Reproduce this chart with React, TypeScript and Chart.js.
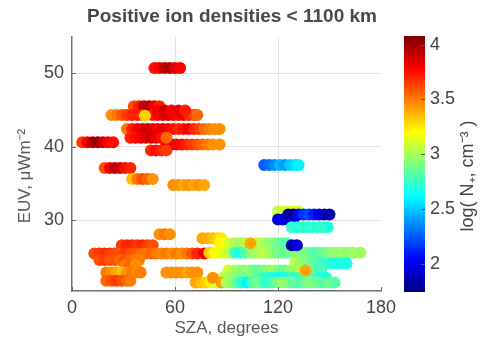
import { useEffect, useRef } from 'react';
import { Chart, registerables } from 'chart.js';

Chart.register(...registerables);

const FONT = '"Liberation Sans", Arial, sans-serif';

const xTicks = [0, 60, 120, 180];
const yTicks = [30, 40, 50];
const cbTicks = [2, 2.5, 3, 3.5, 4];

const X_MIN = 0;
const X_MAX = 180;
const Y_MIN = 20.4;
const Y_MAX = 54.9;
const CB_MIN = 1.75;
const CB_MAX = 4.07;

// EUV level of each streak of samples (µW m^-2)
const streakEuv = [
  50.7, 45.5, 44.3, 44.9, 44.2, 42.4, 40.6, 40.3, 41.2, 39.5, 37.1, 35.6, 34.8,
  28.1, 27.55, 26.6, 25.5, 24.6, 23.9, 22.9, 22.9, 21.8,
  26.9, 25.6, 24.15, 23.2, 22.2, 21.55,
  26.9, 23.2, 22.2, 26.6,
  37.5, 31.2, 30.1, 30.8, 29.05,
];

// SZA of each sample in the streaks (degrees)
const streakSza = [
  [48, 51, 54, 57, 60, 63],
  [36, 39, 42, 45, 48, 51],
  [23, 26, 29, 32, 35, 38, 41, 47, 50, 53, 56, 59, 62, 65, 68, 71, 73],
  [50, 54, 58, 62, 66],
  [42.5],
  [32, 35, 38, 41, 44, 47, 50, 53, 56, 59, 62, 65, 68, 71, 74, 77, 80, 83, 86],
  [6, 9, 12, 15, 18, 21, 24],
  [55, 58, 61, 64, 67, 70, 73, 76, 79, 82, 86],
  [34, 37, 40, 43, 46, 49, 52, 55],
  [46, 49, 52, 55],
  [19, 22, 25, 28, 31, 34],
  [35, 38, 41, 44, 47],
  [59, 62, 65, 68, 71, 74, 77],
  [51, 54, 57],
  [76, 79, 82, 85, 87],
  [29, 32, 35, 38, 41, 44, 47],
  [13, 16, 19, 22, 25, 28, 31, 34, 37, 40, 43, 46, 49, 52, 55, 58, 61, 64, 67, 70, 73, 77],
  [16, 19, 22, 25, 28, 31, 34, 37, 39],
  [31, 34, 37],
  [20, 23, 26, 29, 32, 35, 38, 40],
  [55, 58, 61, 64, 67, 70, 73],
  [20, 23, 26, 29, 32, 34],
  [86, 89, 92, 95, 98, 101, 107, 110, 113, 116, 119, 122, 125],
  [80, 83, 86, 89, 92, 95, 98, 101, 104, 107, 110, 113, 116, 119, 122, 125, 128, 131, 134, 137, 140, 143, 146, 149, 152, 155, 158, 161, 164, 168],
  [130, 133, 136, 139, 142, 145, 148, 151, 154, 157, 160],
  [91, 94, 97, 100, 103, 106, 109, 112, 115, 118, 121, 124, 127, 130, 133, 139, 142, 145],
  [88, 92, 96, 100, 104, 108, 112, 116, 120, 124, 128, 132, 136, 140, 144, 148],
  [72, 75, 78, 81, 84, 87, 90, 93, 96, 99, 102, 105, 108, 111, 114, 117, 120, 123, 126, 129, 132, 135, 138, 141, 144, 147, 150, 153],
  [104],
  [136],
  [82],
  [128, 131],
  [112, 115, 118, 121, 124, 127, 130, 132],
  [120, 123, 126, 129, 132],
  [120, 123, 126, 129],
  [126, 129, 132, 135, 138, 141, 144, 147, 150],
  [128, 131, 134, 137, 140, 143, 146, 149],
];

// log10 of the positive ion density of each sample (cm^-3)
const streakLogN = [
  [3.75, 3.8, 3.92, 3.97, 3.85, 3.78],
  [3.6, 3.72, 3.92, 3.95, 3.82, 3.7],
  [3.45, 3.5, 3.58, 3.65, 3.7, 3.72, 3.68, 3.72, 3.78, 3.82, 3.85, 3.8, 3.75, 3.8, 3.7, 3.62, 3.55],
  [3.8, 3.88, 3.78, 3.82, 3.72],
  [3.3],
  [3.5, 3.7, 3.8, 3.85, 3.9, 3.85, 3.8, 3.85, 3.8, 3.75, 3.7, 3.75, 3.8, 3.7, 3.65, 3.55, 3.5, 3.45, 3.45],
  [3.65, 3.8, 3.95, 4.0, 3.9, 3.8, 3.75],
  [3.8, 3.85, 3.8, 3.75, 3.7, 3.65, 3.6, 3.55, 3.5, 3.45, 3.45],
  [3.7, 3.75, 3.8, 3.85, 3.9, 3.82, 3.75, 3.55],
  [3.7, 3.75, 3.7, 3.65],
  [3.6, 3.8, 3.92, 3.9, 3.75, 3.7],
  [3.35, 3.5, 3.6, 3.55, 3.45],
  [3.45, 3.45, 3.4, 3.45, 3.4, 3.45, 3.4],
  [3.45, 3.5, 3.45],
  [3.4, 3.38, 3.35, 3.3, 3.25],
  [3.65, 3.7, 3.7, 3.65, 3.7, 3.65, 3.6],
  [3.62, 3.65, 3.68, 3.65, 3.62, 3.6, 3.65, 3.6, 3.58, 3.55, 3.52, 3.55, 3.5, 3.48, 3.5, 3.45, 3.5, 3.45, 3.5, 3.6, 3.7, 3.82],
  [3.6, 3.65, 3.6, 3.6, 3.55, 3.6, 3.55, 3.5, 3.5],
  [3.5, 3.55, 3.45],
  [3.5, 3.45, 3.4, 3.35, 3.45, 3.5, 3.45, 3.5],
  [3.45, 3.45, 3.45, 3.45, 3.4, 3.45, 3.45],
  [3.55, 3.6, 3.65, 3.6, 3.55, 3.5],
  [3.22, 3.18, 3.1, 3.02, 2.98, 3.05, 3.12, 3.05, 2.98, 2.95, 2.9, 2.85, 2.8],
  [3.3, 3.22, 3.18, 3.12, 3.05, 2.75, 2.68, 2.8, 2.92, 2.98, 3.02, 3.05, 2.98, 2.92, 2.88, 2.85, 2.9, 2.95, 2.9, 2.9, 2.85, 2.8, 2.85, 2.9, 2.95, 2.95, 2.98, 2.92, 2.98, 2.98],
  [3.05, 2.98, 2.92, 2.88, 2.82, 2.78, 2.75, 2.7, 2.68, 2.68, 2.68],
  [3.1, 3.02, 2.98, 2.92, 2.98, 2.88, 2.85, 2.9, 2.95, 2.98, 2.9, 2.85, 2.92, 2.98, 3.02, 2.88, 2.82, 2.78],
  [3.05, 2.98, 2.92, 2.88, 2.92, 2.82, 2.72, 2.68, 2.62, 2.68, 2.72, 2.78, 2.85, 2.8, 2.72, 2.68],
  [3.4, 3.35, 3.3, 3.22, 3.12, 3.42, 3.02, 2.95, 2.85, 2.72, 2.6, 2.78, 2.88, 2.82, 2.72, 2.8, 2.88, 2.98, 2.92, 2.85, 2.8, 2.85, 2.9, 2.9, 2.85, 2.8, 2.88, 2.82],
  [3.4],
  [3.4],
  [3.45],
  [1.85, 1.95],
  [2.25, 2.3, 2.35, 2.45, 2.4, 2.5, 2.55, 2.6],
  [3.05, 3.1, 3.1, 3.15, 3.1],
  [1.95, 2.0, 1.95, 2.05],
  [1.85, 1.8, 2.05, 2.15, 2.2, 2.1, 2.0, 1.9, 1.85],
  [2.75, 2.7, 2.75, 2.7, 2.75, 2.7, 2.75, 2.7],
];

function jet(t: number): string {
  const tt = Math.min(1, Math.max(0, t));
  const c = (v: number) => Math.round(255 * Math.min(1, Math.max(0, v)));
  const r = c(1.5 - Math.abs(4 * tt - 3));
  const g = c(1.5 - Math.abs(4 * tt - 2));
  const b = c(1.5 - Math.abs(4 * tt - 1));
  return `rgb(${r},${g},${b})`;
}

const colorOf = (v: number) => jet((v - CB_MIN) / (CB_MAX - CB_MIN));

const noPad = (s: any) => {
  s.paddingTop = 0;
  s.paddingBottom = 0;
  s.paddingLeft = 0;
  s.paddingRight = 0;
};

const decorPlugin = {
  id: 'decor',
  afterDraw(chart: any) {
    const ctx: CanvasRenderingContext2D = chart.ctx;
    const cb = chart.scales.cb;
    const xs = chart.scales.x;
    const ys = chart.scales.y;
    const area = chart.chartArea;
    ctx.save();

    // colour bar
    const top = cb.getPixelForValue(CB_MAX);
    const bottom = cb.getPixelForValue(CB_MIN);
    const x0 = cb.left + 23;
    const w = 21;
    const grad = ctx.createLinearGradient(0, bottom, 0, top);
    [0, 1 / 8, 3 / 8, 5 / 8, 7 / 8, 1].forEach((t) => grad.addColorStop(t, jet(t)));
    ctx.fillStyle = grad;
    ctx.fillRect(x0, top - 1, w, bottom - top + 2);
    ctx.strokeStyle = '#555';
    ctx.lineWidth = 1;
    cb.ticks.forEach((t: any) => {
      const y = Math.round(cb.getPixelForValue(t.value)) + 0.5;
      ctx.beginPath();
      ctx.moveTo(x0 + w - 4, y);
      ctx.lineTo(x0 + w, y);
      ctx.stroke();
    });

    // inward tick marks on the axes
    ctx.strokeStyle = '#666';
    ys.ticks.forEach((t: any) => {
      const y = Math.round(ys.getPixelForValue(t.value)) + 0.5;
      ctx.beginPath();
      ctx.moveTo(area.left, y);
      ctx.lineTo(area.left + 4, y);
      ctx.stroke();
    });
    xs.ticks.forEach((t: any) => {
      const x = Math.round(xs.getPixelForValue(t.value)) + 0.5;
      ctx.beginPath();
      ctx.moveTo(x, area.bottom);
      ctx.lineTo(x, area.bottom - 4);
      ctx.stroke();
    });

    // titles
    ctx.fillStyle = '#484848';
    ctx.textAlign = 'center';
    ctx.textBaseline = 'middle';
    ctx.font = `bold 19px ${FONT}`;
    ctx.fillText('Positive ion densities < 1100 km', 232, 17);

    ctx.fillStyle = '#595959';
    ctx.font = `17px ${FONT}`;
    ctx.fillText('SZA, degrees', (area.left + area.right) / 2, 328);

    ctx.save();
    ctx.translate(25, 176);
    ctx.rotate(-Math.PI / 2);
    ctx.fillText('EUV, μWm⁻²', 0, 0);
    ctx.restore();

    ctx.save();
    ctx.translate(468, 176);
    ctx.rotate(-Math.PI / 2);
    ctx.fillStyle = '#444';
    ctx.font = `18px ${FONT}`;
    ctx.fillText('log( N₊, cm⁻³ )', 0, 0);
    ctx.restore();

    ctx.restore();
  },
};

export default function App() {
  const ref = useRef<HTMLCanvasElement | null>(null);

  useEffect(() => {
    const canvas = ref.current;
    if (!canvas) return;
    const points: { x: number; y: number }[] = [];
    const colors: string[] = [];
    streakEuv.forEach((euv, i) => {
      streakSza[i].forEach((s, j) => {
        points.push({ x: s, y: euv });
        colors.push(colorOf(streakLogN[i][j]));
      });
    });

    const tickFont = { family: FONT, size: 18 };
    const chart = new Chart(canvas, {
      type: 'scatter',
      data: {
        datasets: [
          {
            data: points,
            pointBackgroundColor: colors,
            pointBorderWidth: 0,
            pointBorderColor: colors,
            pointRadius: 6,
            pointHoverRadius: 6,
            clip: false as any,
          } as any,
        ],
      },
      options: {
        animation: false,
        responsive: false,
        events: [],
        layout: { padding: { top: 37, left: 0, right: 0, bottom: 0 } },
        plugins: {
          legend: { display: false },
          title: { display: false },
          tooltip: { enabled: false },
        },
        scales: {
          x: {
            type: 'linear',
            position: 'bottom',
            min: X_MIN,
            max: X_MAX,
            afterBuildTicks: (s: any) => {
              s.ticks = xTicks.map((v) => ({ value: v }));
            },
            afterFit: (s: any) => {
              s.height = 50;
              noPad(s);
            },
            grid: {
              color: (c: any) =>
                c.tick && (c.tick.value === 60 || c.tick.value === 120) ? '#e4e4e4' : 'rgba(0,0,0,0)',
              drawTicks: false,
              lineWidth: 1,
            },
            border: { display: true, color: '#6e6e6e', width: 1.5 },
            ticks: {
              padding: 6,
              font: tickFont,
              color: '#444',
              maxRotation: 0,
              autoSkip: false,
              callback: (v: any) => String(v),
            },
          },
          y: {
            type: 'linear',
            position: 'left',
            min: Y_MIN,
            max: Y_MAX,
            afterBuildTicks: (s: any) => {
              s.ticks = yTicks.map((v) => ({ value: v }));
            },
            afterFit: (s: any) => {
              s.width = 72;
              noPad(s);
            },
            grid: { color: '#e4e4e4', drawTicks: false, lineWidth: 1 },
            border: { display: true, color: '#6e6e6e', width: 1.5 },
            ticks: {
              padding: 8,
              font: tickFont,
              color: '#444',
              autoSkip: false,
              callback: (v: any) => String(v),
            },
          },
          cb: {
            type: 'linear',
            position: 'right',
            min: CB_MIN,
            max: CB_MAX,
            afterBuildTicks: (s: any) => {
              s.ticks = cbTicks.map((v) => ({ value: v }));
            },
            afterFit: (s: any) => {
              s.width = 103;
              noPad(s);
            },
            grid: { display: false, drawTicks: false },
            border: { display: false },
            ticks: {
              padding: 49,
              font: tickFont,
              color: '#444',
              autoSkip: false,
              callback: (v: any) => String(v),
            },
          },
        } as any,
      },
      plugins: [decorPlugin],
    });
    return () => chart.destroy();
  }, []);

  return (
    <div style={{ position: 'fixed', left: 0, top: 0, width: 484, height: 341, background: '#fff' }}>
      <canvas ref={ref} width={484} height={341} style={{ display: 'block' }} />
    </div>
  );
}
